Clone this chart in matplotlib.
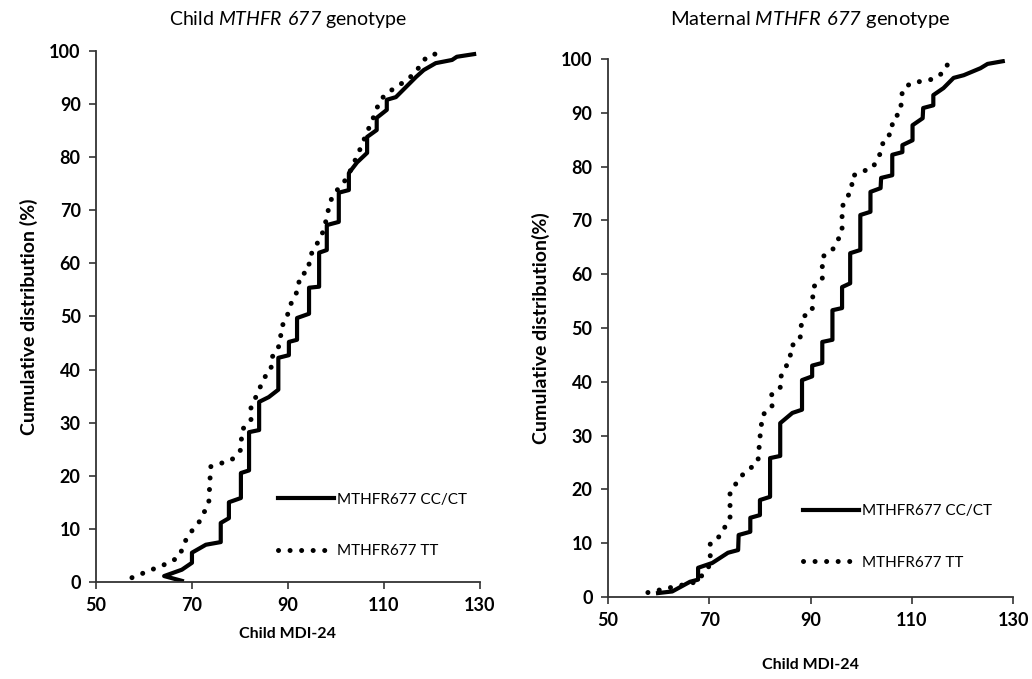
import matplotlib
matplotlib.use('Agg')
import matplotlib.pyplot as plt

plt.rcParams['font.family'] = ['Lato', 'DejaVu Sans']
plt.rcParams['mathtext.fontset'] = 'custom'
plt.rcParams['mathtext.rm'] = 'Lato'
plt.rcParams['mathtext.sf'] = 'Lato:italic'

# child genotype panel
child_cc_x = [67.9, 64.2, 67.9, 70, 70, 72.9, 76, 76, 77.7, 77.7, 80.2, 80.2, 81.9, 81.9, 84, 84,
              86, 88, 88, 90.2, 90.2, 91.9, 91.9, 94.4, 94.4, 96.5, 96.5, 98.1, 98.1, 100.6, 100.6,
              102.7, 102.7, 104.4, 106.5, 106.5, 108.5, 108.5, 110.6, 110.6, 112.5, 114.6, 116.7,
              118.3, 120.8, 124.2, 125.2, 128.8]
child_cc_y = [0.2, 1.1, 2.3, 3.6, 5.5, 7, 7.5, 11.1, 12, 15, 15.8, 20.5, 21, 28.2, 28.6, 33.9,
              34.8, 36.2, 42.2, 42.7, 45.2, 45.6, 49.7, 50.5, 55.4, 55.6, 62, 62.5, 67.2, 67.8, 73.3,
              73.8, 77, 79, 80.8, 83.8, 85.1, 87.4, 88.9, 90.8, 91.3, 93.2, 95.1,
              96.4, 97.7, 98.3, 98.9, 99.4]
child_tt_x = [57.5, 65.2, 67.3, 69, 71.5, 73.5, 73.9, 78.3, 80.2, 80.4, 82.3, 82.3, 84, 85, 86.5,
              86.5, 87.7, 88.5, 88.5, 89.8, 90.2, 92.3, 92.3, 94.4, 94.4, 96.5, 97.5, 98.5, 99.2,
              100.6, 101.7, 103.1, 104.8, 106.5, 108.3, 109, 110.6, 112.7, 114.6, 116.7, 117.7,
              119.4, 121.9]
child_tt_y = [0.8, 3.6, 4.7, 8.5, 11.3, 14.8, 21.7, 23, 24.9, 28.6, 30.5, 32.8, 36.2, 38.4, 39.9,
              42.2, 43.3, 45.6, 47.8, 49.7, 51.6, 55.4, 57.4, 58.8, 61, 64.4, 66.3, 70.4, 72.5,
              74.2, 75.3, 77.6, 81, 84.7, 88.5, 90.4, 92.1, 93.2, 94.5, 95.9, 97.7,
              99.2, 99.6]

# maternal genotype panel
mat_cc_x = [59.9, 62.7, 66.2, 67.8, 67.8, 70.6, 73.7, 75.7, 75.8, 78.1, 78.1, 80, 80, 82, 82, 84,
            84, 86.4, 88.3, 88.3, 90.3, 90.3, 92.3, 92.3, 94.3, 94.3, 96.2, 96.2, 97.8, 97.8,
            99.8, 99.8, 101.8, 101.8, 103.8, 103.9, 106.1, 106.1, 108.1, 108.1, 110.1, 110.1,
            112.1, 112.2, 114.2, 114.2, 116.2, 118.2, 120.2, 123.5, 124.9, 127.9]
mat_cc_y = [0.7, 1, 2.8, 3.2, 5.4, 6.3, 8.2, 8.7, 11.5, 12.1, 14.7, 15.2, 18, 18.6, 25.8, 26.2,
            32.3, 34.2, 34.8, 40.3, 41, 43, 43.5, 47.4, 47.8, 53.3, 53.7, 57.6, 58.3, 63.9,
            64.5, 71, 71.6, 75.3, 76, 77.9, 78.4, 82.2, 82.7, 84, 84.9, 87.7,
            89, 90.9, 91.4, 93.3, 94.6, 96.5, 97, 98.3, 99.1, 99.6]
mat_tt_x = [57.9, 67.6, 70.2, 70.2, 72.1, 74.1, 74.1, 76.1, 79.6, 80, 80.5, 82.4, 82.2, 84, 84,
            86, 86, 87.9, 88.3, 90.3, 90.5, 92.3, 92.3, 94.3, 96.2, 96.2, 98.2, 98, 99.8, 102.2,
            104.1, 104.3, 106.1, 106.1, 107.7, 108.1, 109.7, 114.3, 116.3, 117.2]
mat_tt_y = [0.8, 2.8, 6, 10, 11.3, 14.7, 19.3, 22.3, 25.1, 29.6, 33.8, 35.3, 37.5, 38.8, 40.7,
            44.4, 46.5, 47.8, 52, 53, 57.6, 59, 63.2, 64.5, 67.8, 72.5, 76, 78.1, 79, 79.7,
            83.1, 84.9, 86.4, 88.7, 90.1, 94.2, 95.5, 96.3, 97.6, 99.4]

series_labels = ['MTHFR677 CC/CT', 'MTHFR677 TT']
x_ticks = [50, 70, 90, 110, 130]
y_ticks = list(range(0, 101, 10))

fig = plt.figure(figsize=(10.32, 6.79), dpi=100)
ax1 = fig.add_axes([0.093, 0.143, 0.372, 0.782])
ax2 = fig.add_axes([0.589, 0.121, 0.393, 0.792])


def draw_panel(ax, cc_x, cc_y, tt_x, tt_y, title, ylabel, leg_anchor, title_size, title_pad,
               xlabel_pad):
    ax.plot(cc_x, cc_y, color='black', lw=3.0, solid_joinstyle='round', label=series_labels[0])
    ax.plot(tt_x, tt_y, color='black', lw=3.6, linestyle=(0, (0.01, 2.3)),
            dash_capstyle='round', label=series_labels[1])
    ax.set_xlim(50, 130)
    ax.set_ylim(0, 100)
    ax.set_xticks(x_ticks)
    ax.set_yticks(y_ticks)
    for s in ['top', 'right']:
        ax.spines[s].set_visible(False)
    for s in ['left', 'bottom']:
        ax.spines[s].set_linewidth(1.3)
        ax.spines[s].set_color('#333333')
    ax.tick_params(direction='out', length=5, width=1.2, color='#333333',
                   labelsize=13, pad=6)
    for lab in ax.get_xticklabels() + ax.get_yticklabels():
        lab.set_fontweight('bold')
    ax.set_xlabel('Child MDI-24', fontsize=11.5, fontweight='bold', labelpad=xlabel_pad)
    ax.set_ylabel(ylabel, fontsize=14, fontweight='bold', labelpad=8)
    ax.set_title(title, fontsize=title_size, pad=title_pad)
    ax.legend(loc='upper left', bbox_to_anchor=leg_anchor, frameon=False, fontsize=11,
              handlelength=3.7, handletextpad=0.15, labelspacing=2.45, borderpad=0,
              borderaxespad=0)


draw_panel(ax1, child_cc_x, child_cc_y, child_tt_x, child_tt_y,
           r'Child $\mathsf{MTHFR\ 677}$ genotype', 'Cumulative distribution (%)',
           (0.474, 0.168), 14, 19, 9)
draw_panel(ax2, mat_cc_x, mat_cc_y, mat_tt_x, mat_tt_y,
           r'Maternal $\mathsf{MTHFR\ 677}$ genotype', 'Cumulative distribution(%)',
           (0.481, 0.172), 14.5, 24.5, 21)

fig.savefig('out.png', dpi=100)
